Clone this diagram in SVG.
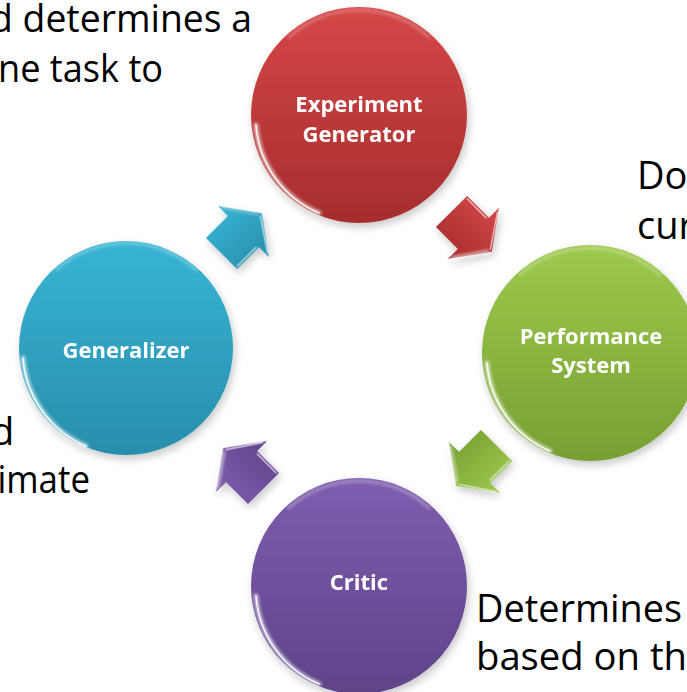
<svg xmlns="http://www.w3.org/2000/svg" width="687" height="692" viewBox="0 0 687 692">
  <style>
    .label { font-family: "Open Sans", "Liberation Sans", sans-serif; font-weight: 700; font-size: 22px; fill: #ffffff; text-anchor: middle; }
    .note { font-family: "Open Sans", "Liberation Sans", sans-serif; font-size: 38px; fill: #000000; }
    .rim { fill: none; stroke: #ffffff; stroke-linecap: round; }
  </style>
  <defs>
    <filter id="shadow" x="-20%" y="-20%" width="140%" height="140%">
      <feGaussianBlur in="SourceAlpha" stdDeviation="4"/>
      <feOffset dx="2" dy="4" result="b"/>
      <feComponentTransfer><feFuncA type="linear" slope="0.22"/></feComponentTransfer>
      <feMerge><feMergeNode/><feMergeNode in="SourceGraphic"/></feMerge>
    </filter>
    <filter id="soft" x="-20%" y="-20%" width="140%" height="140%">
      <feGaussianBlur stdDeviation="1.6"/>
    </filter>
    <linearGradient id="gRed" x1="0" y1="0" x2="0" y2="1">
      <stop offset="0" stop-color="#d54747"/>
      <stop offset="1" stop-color="#a62d2d"/>
    </linearGradient>
    <linearGradient id="gGreen" x1="0" y1="0" x2="0" y2="1">
      <stop offset="0" stop-color="#9dc94d"/>
      <stop offset="1" stop-color="#76a032"/>
    </linearGradient>
    <linearGradient id="gBlue" x1="0" y1="0" x2="0" y2="1">
      <stop offset="0" stop-color="#38b4d4"/>
      <stop offset="1" stop-color="#288eac"/>
    </linearGradient>
    <linearGradient id="gPurple" x1="0" y1="0" x2="0" y2="1">
      <stop offset="0" stop-color="#7f5daf"/>
      <stop offset="1" stop-color="#5f4389"/>
    </linearGradient>
    <!-- block arrow pointing along +x, centred on the origin -->
    <path id="arrowShape" d="M -29 -22 L 2 -22 L 2 -36 L 28 0 L 2 36 L 2 22 L -29 22 Z"/>
    <!-- glossy bevel along the lower-left edge of a ball (r = 108) -->
    <path id="rimArc" d="M -40 98 A 104 104 0 0 1 -103 10"/>
    <path id="rimTop" d="M -70 -78 A 104 104 0 0 1 70 -78"/>
  </defs>

  <!-- side notes, partly cut off by the frame -->
  <g id="notes">
    <text class="note" x="-10" y="32" textLength="262" lengthAdjust="spacingAndGlyphs">d determines a</text>
    <text class="note" x="-2" y="82" textLength="165" lengthAdjust="spacingAndGlyphs">ne task to</text>
    <text class="note" x="637" y="189">Do</text>
    <text class="note" x="637" y="239">cur</text>
    <text class="note" x="-9" y="445">d</text>
    <text class="note" x="-15" y="493" textLength="105" lengthAdjust="spacingAndGlyphs">timate</text>
    <text class="note" x="476" y="622" textLength="206" lengthAdjust="spacingAndGlyphs">Determines</text>
    <text class="note" x="476" y="670" textLength="211" lengthAdjust="spacingAndGlyphs">based on th</text>
  </g>

  <g id="connectors" filter="url(#shadow)">
    <g id="arrow-generator-to-performance" transform="translate(472 232) rotate(45)">
      <use href="#arrowShape" fill="url(#gRed)"/>
      <path d="M -27 -20 L 0 -20 M 4 -32 L 25 -1" class="rim" stroke-width="1.5" opacity="0.6"/>
      <path d="M 4 32 L 25 2" class="rim" stroke-width="2.5" opacity="0.7" filter="url(#soft)"/>
    </g>
    <g id="arrow-performance-to-critic" transform="translate(476 466) rotate(135)">
      <use href="#arrowShape" fill="url(#gGreen)"/>
      <path d="M -27 -20 L 0 -20 M 4 -32 L 25 -1" class="rim" stroke-width="1.5" opacity="0.6"/>
      <path d="M 4 32 L 25 2" class="rim" stroke-width="2.5" opacity="0.6" filter="url(#soft)"/>
    </g>
    <g id="arrow-critic-to-generalizer" transform="translate(243 468) rotate(225)">
      <use href="#arrowShape" fill="url(#gPurple)"/>
      <path d="M -27 20 L 0 20 M 4 32 L 25 1" class="rim" stroke-width="1.5" opacity="0.7"/>
      <path d="M 4 -32 L 25 -2" class="rim" stroke-width="2.5" opacity="0.7" filter="url(#soft)"/>
    </g>
    <g id="arrow-generalizer-to-generator" transform="translate(242 233) rotate(-45)">
      <use href="#arrowShape" fill="url(#gBlue)"/>
      <path d="M -27 20 L 0 20 M 4 32 L 25 1" class="rim" stroke-width="1.5" opacity="0.6"/>
      <path d="M 4 -32 L 25 -2" class="rim" stroke-width="2" opacity="0.5" filter="url(#soft)"/>
    </g>
  </g>

  <g id="node-experiment-generator" transform="translate(359 115)">
    <circle r="108" fill="url(#gRed)" filter="url(#shadow)"/>
    <use href="#rimArc" class="rim" stroke-width="5" opacity="0.6" filter="url(#soft)"/>
    <use href="#rimArc" class="rim" stroke-width="1.5" opacity="0.9"/>
    <use href="#rimTop" class="rim" stroke-width="3" opacity="0.25" filter="url(#soft)"/>
    <text class="label" x="0" y="-3">Experiment</text>
    <text class="label" x="0" y="27">Generator</text>
  </g>

  <g id="node-performance-system" transform="translate(590 353)">
    <circle r="108" fill="url(#gGreen)" filter="url(#shadow)"/>
    <use href="#rimArc" class="rim" stroke-width="5" opacity="0.6" filter="url(#soft)"/>
    <use href="#rimArc" class="rim" stroke-width="1.5" opacity="0.9"/>
    <use href="#rimTop" class="rim" stroke-width="3" opacity="0.3" filter="url(#soft)"/>
    <text class="label" x="1" y="-9">Performance</text>
    <text class="label" x="1" y="20">System</text>
  </g>

  <g id="node-critic" transform="translate(359 586)">
    <circle r="108" fill="url(#gPurple)" filter="url(#shadow)"/>
    <use href="#rimArc" class="rim" stroke-width="5" opacity="0.6" filter="url(#soft)"/>
    <use href="#rimArc" class="rim" stroke-width="1.5" opacity="0.9"/>
    <use href="#rimTop" class="rim" stroke-width="3" opacity="0.3" filter="url(#soft)"/>
    <text class="label" x="0" y="4">Critic</text>
  </g>

  <g id="node-generalizer" transform="translate(126 348)">
    <circle r="107" fill="url(#gBlue)" filter="url(#shadow)"/>
    <use href="#rimArc" class="rim" stroke-width="5" opacity="0.6" filter="url(#soft)"/>
    <use href="#rimArc" class="rim" stroke-width="1.5" opacity="0.9"/>
    <use href="#rimTop" class="rim" stroke-width="3" opacity="0.3" filter="url(#soft)"/>
    <text class="label" x="0" y="10">Generalizer</text>
  </g>
</svg>
